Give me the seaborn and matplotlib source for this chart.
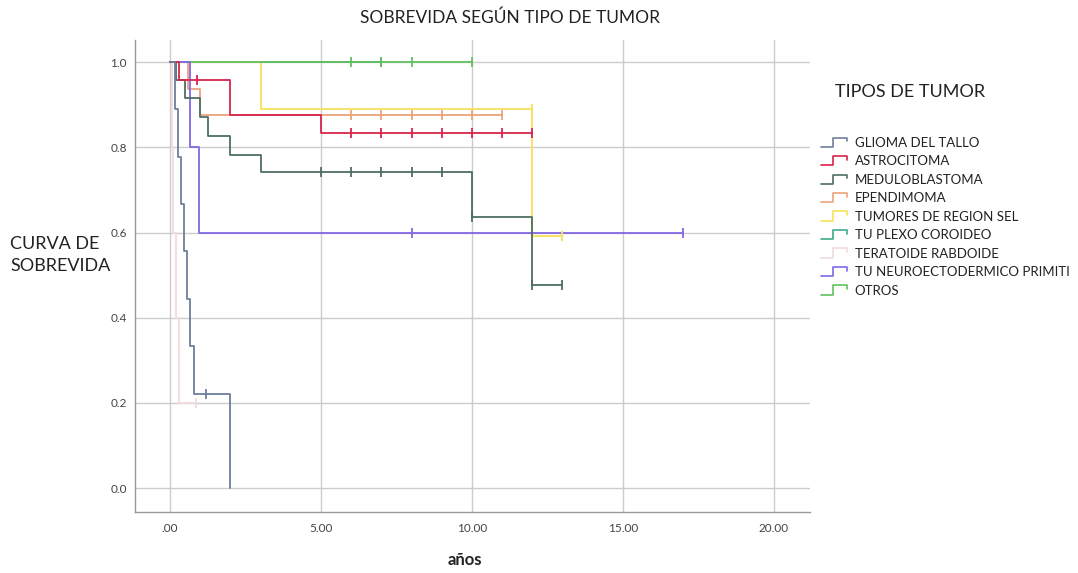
import numpy as np
import pandas as pd
import matplotlib
matplotlib.use("Agg")
import matplotlib.pyplot as plt
from matplotlib.lines import Line2D
from matplotlib.legend_handler import HandlerBase
import seaborn as sns

# Tumour groups (legend order)
grupos = [
    "GLIOMA DEL TALLO",
    "ASTROCITOMA",
    "MEDULOBLASTOMA",
    "EPENDIMOMA",
    "TUMORES DE REGION SEL",
    "TU PLEXO COROIDEO",
    "TERATOIDE RABDOIDE",
    "TU NEUROECTODERMICO PRIMITI",
    "OTROS",
]

# Kaplan-Meier step data per group: times (years) and survival after each time
glioma_t = [0, 0.15, 0.25, 0.35, 0.45, 0.55, 0.65, 0.80, 2.0]
glioma_s = [1.0, 0.889, 0.778, 0.667, 0.556, 0.444, 0.333, 0.222, 0.0]
glioma_c_t = [1.2]
glioma_c_s = [0.222]

astro_t = [0, 0.3, 2.0, 5.0, 12.0]
astro_s = [1.0, 0.958, 0.875, 0.833, 0.833]
astro_c_t = [0.9, 6, 7, 8, 9, 10, 11, 12]
astro_c_s = [0.958, 0.833, 0.833, 0.833, 0.833, 0.833, 0.833, 0.833]

medulo_t = [0, 0.2, 0.5, 1.0, 1.25, 2.0, 3.0, 10.0, 12.0, 13.0]
medulo_s = [1.0, 0.957, 0.915, 0.872, 0.826, 0.783, 0.741, 0.636, 0.476, 0.476]
medulo_c_t = [5, 6, 7, 8, 9, 10, 12, 13]
medulo_c_s = [0.741, 0.741, 0.741, 0.741, 0.741, 0.636, 0.476, 0.476]

epend_t = [0, 0.6, 1.0, 11.0]
epend_s = [1.0, 0.938, 0.875, 0.875]
epend_c_t = [6, 7, 8, 9, 10, 11]
epend_c_s = [0.875, 0.875, 0.875, 0.875, 0.875, 0.875]

sel_t = [0, 3.0, 12.0, 13.0]
sel_s = [1.0, 0.889, 0.593, 0.593]
sel_c_t = [12, 13]
sel_c_s = [0.889, 0.593]

plexo_t = [0, 7.0]
plexo_s = [1.0, 1.0]
plexo_c_t = [7]
plexo_c_s = [1.0]

terat_t = [0, 0.05, 0.1, 0.2, 0.3, 0.85]
terat_s = [1.0, 0.8, 0.6, 0.4, 0.2, 0.2]
terat_c_t = [0.85]
terat_c_s = [0.2]

pnet_t = [0, 0.65, 0.97, 17.0]
pnet_s = [1.0, 0.8, 0.6, 0.6]
pnet_c_t = [8, 17]
pnet_c_s = [0.6, 0.6]

otros_t = [0, 10.0]
otros_s = [1.0, 1.0]
otros_c_t = [6, 7, 8, 10]
otros_c_s = [1.0, 1.0, 1.0, 1.0]

curvas = {
    "GLIOMA DEL TALLO": (glioma_t, glioma_s, glioma_c_t, glioma_c_s),
    "ASTROCITOMA": (astro_t, astro_s, astro_c_t, astro_c_s),
    "MEDULOBLASTOMA": (medulo_t, medulo_s, medulo_c_t, medulo_c_s),
    "EPENDIMOMA": (epend_t, epend_s, epend_c_t, epend_c_s),
    "TUMORES DE REGION SEL": (sel_t, sel_s, sel_c_t, sel_c_s),
    "TU PLEXO COROIDEO": (plexo_t, plexo_s, plexo_c_t, plexo_c_s),
    "TERATOIDE RABDOIDE": (terat_t, terat_s, terat_c_t, terat_c_s),
    "TU NEUROECTODERMICO PRIMITI": (pnet_t, pnet_s, pnet_c_t, pnet_c_s),
    "OTROS": (otros_t, otros_s, otros_c_t, otros_c_s),
}

colores = {
    "GLIOMA DEL TALLO": "#6e7f9c",
    "ASTROCITOMA": "#d8254e",
    "MEDULOBLASTOMA": "#4d6e62",
    "EPENDIMOMA": "#eda27c",
    "TUMORES DE REGION SEL": "#f7e15a",
    "TU PLEXO COROIDEO": "#3fa98c",
    "TERATOIDE RABDOIDE": "#f3dada",
    "TU NEUROECTODERMICO PRIMITI": "#8268e6",
    "OTROS": "#63c060",
}

x_ticks = [0, 5, 10, 15, 20]
x_labels = [".00", "5.00", "10.00", "15.00", "20.00"]
y_ticks = [0.0, 0.2, 0.4, 0.6, 0.8, 1.0]
y_labels = ["0.0", "0.2", "0.4", "0.6", "0.8", "1.0"]

# Long-format tables for seaborn
lineas = pd.concat(
    [pd.DataFrame({"t": v[0], "s": v[1], "grupo": g}) for g, v in curvas.items()],
    ignore_index=True)
censuras = pd.concat(
    [pd.DataFrame({"t": v[2], "s": v[3], "grupo": g}) for g, v in curvas.items()],
    ignore_index=True)

sns.set_theme(style="white")
plt.rcParams["font.family"] = ["Lato", "DejaVu Sans"]

fig = plt.figure(figsize=(10.78, 5.73), dpi=100)
ax = fig.add_axes([135 / 1078, 1 - 512 / 573, 675 / 1078, 472 / 573])

ax.grid(True, color="#cccccc", linewidth=1.0)
ax.set_axisbelow(True)

# Lighter groups first so the strong lines stay on top
orden_dibujo = ["TERATOIDE RABDOIDE", "TU PLEXO COROIDEO", "TUMORES DE REGION SEL",
                "EPENDIMOMA", "OTROS", "TU NEUROECTODERMICO PRIMITI",
                "MEDULOBLASTOMA", "ASTROCITOMA", "GLIOMA DEL TALLO"]
for g in orden_dibujo:
    sub = lineas[lineas["grupo"] == g]
    sns.lineplot(data=sub, x="t", y="s", color=colores[g], estimator=None,
                 sort=False, drawstyle="steps-post", linewidth=1.3, ax=ax,
                 legend=False)
    csub = censuras[censuras["grupo"] == g]
    sns.scatterplot(data=csub, x="t", y="s", color=colores[g], marker="|",
                    s=45, linewidth=1.3, ax=ax, legend=False, zorder=4)

ax.set_xlim(-1.16, 21.2)
ax.set_ylim(-0.056, 1.052)
ax.set_xticks(x_ticks)
ax.set_xticklabels(x_labels)
ax.set_yticks(y_ticks)
ax.set_yticklabels(y_labels)
ax.tick_params(axis="both", length=0, labelsize=8.5, labelcolor="#444444")
ax.tick_params(axis="x", pad=8)
ax.tick_params(axis="y", pad=6)
ax.set_xlabel("")
ax.set_ylabel("")
for lado in ["top", "right"]:
    ax.spines[lado].set_visible(False)
for lado in ["left", "bottom"]:
    ax.spines[lado].set_color("#999999")
    ax.spines[lado].set_linewidth(1.0)

fig.text(510 / 1078, 1 - 18 / 573, "SOBREVIDA SEGÚN TIPO DE TUMOR",
         ha="center", va="center", fontsize=12.5, color="#222222")
fig.text(10 / 1078, 1 - 255 / 573, "CURVA DE\nSOBREVIDA", ha="left",
         va="center", fontsize=13, linespacing=1.5, color="#222222")
fig.text(465 / 1078, 1 - 560 / 573, "años", ha="center", va="center",
         fontsize=12, fontweight="bold", color="#222222")
fig.text(835 / 1078, 1 - 92 / 573, "TIPOS DE TUMOR", ha="left", va="center",
         fontsize=13, color="#222222")


class PasoHandler(HandlerBase):
    """Legend swatch drawn as a small survival step."""

    def create_artists(self, legend, orig_handle, xdescent, ydescent,
                       width, height, fontsize, trans):
        x0, y0 = -xdescent, -ydescent
        xs = [x0, x0 + width * 0.45, x0 + width * 0.45, x0 + width, x0 + width]
        ys = [y0, y0, y0 + height, y0 + height, y0 + height * 0.6]
        linea = Line2D(xs, ys, color=orig_handle.get_color(), linewidth=1.2,
                       transform=trans)
        return [linea]


handles = [Line2D([], [], color=colores[g]) for g in grupos]
fig.legend(handles, grupos, loc="upper left",
           bbox_to_anchor=(809 / 1078, 1 - 125 / 573), frameon=False,
           fontsize=9.5, handlelength=2.0, handletextpad=0.55, labelspacing=0.49,
           handler_map={Line2D: PasoHandler()}, labelcolor="#222222")

fig.savefig("out.png", dpi=100, facecolor="white")
